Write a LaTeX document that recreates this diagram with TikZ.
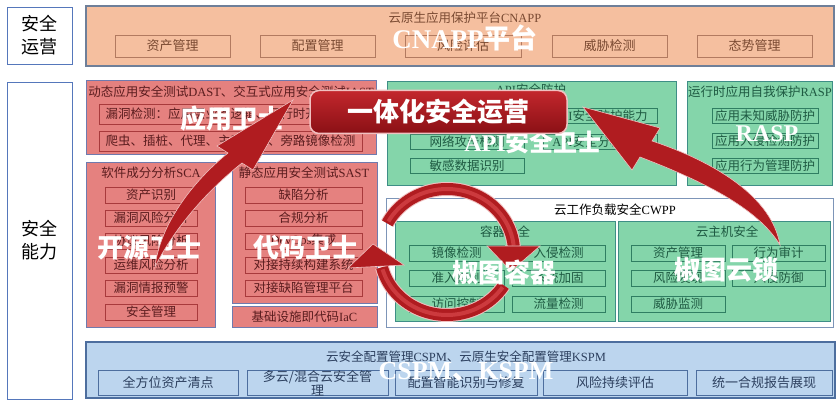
\documentclass[tikz,border=0pt]{standalone}
\usepackage{fontspec}
\setmainfont{Noto Sans CJK SC}
\newfontfamily\lat{Liberation Serif}
\newcommand\fs{\fontsize{12.5}{14}\selectfont}
\newcommand\fsb{\fontsize{13}{14}\selectfont}
\newcommand\ovf{\bfseries\fontsize{26}{27}\selectfont}
\definecolor{cnf}{HTML}{F5BF9F}
\definecolor{cnb}{HTML}{6E7F99}
\definecolor{cni}{HTML}{B27A60}
\definecolor{cnt}{HTML}{7A4A32}
\definecolor{rf}{HTML}{E5817F}
\definecolor{rb}{HTML}{6F7AAE}
\definecolor{ri}{HTML}{A83A3C}
\definecolor{rt}{HTML}{5A1C1E}
\definecolor{gf}{HTML}{84D5AA}
\definecolor{gb}{HTML}{3E8E86}
\definecolor{gi}{HTML}{2F7E62}
\definecolor{gt}{HTML}{1E5A42}
\definecolor{bf}{HTML}{BCD5EE}
\definecolor{bb}{HTML}{4D6E9E}
\definecolor{bt}{HTML}{2C3F5E}
\definecolor{lb}{HTML}{5577BB}
\definecolor{cw}{HTML}{7D95B8}
\definecolor{arr}{HTML}{B01C20}
\definecolor{arrd}{HTML}{8C1216}
\definecolor{arrh}{HTML}{CC3A3E}
\definecolor{arrl}{HTML}{F0C0C0}
\definecolor{bantop}{HTML}{C3272D}
\definecolor{banbot}{HTML}{8A1015}
\begin{document}
\begin{tikzpicture}[x=1pt,y=-1pt,
 box/.style={draw, anchor=north west, inner sep=0pt, outer sep=0pt, align=center},
 lbl/.style={box, draw=lb, fill=white, line width=0.9pt, font=\fontsize{18}{23}\selectfont},
 cnbox/.style={box, draw=cnb, fill=cnf, line width=1.4pt},
 cnitem/.style={box, draw=cni, fill=cnf, line width=0.8pt, text=cnt, font=\fsb, minimum height=22},
 rbox/.style={box, draw=rb, fill=rf, line width=0.9pt},
 ritem/.style={box, draw=ri, fill=rf, line width=0.8pt, text=rt, font=\fs},
 gbox/.style={box, draw=gb, fill=gf, line width=0.9pt},
 gitem/.style={box, draw=gi, fill=gf, line width=0.8pt, text=gt, font=\fs},
 bbox/.style={box, draw=bb, fill=bf, line width=1.4pt},
 bitem/.style={box, draw=bb, fill=bf, line width=0.8pt, text=bt, font=\fsb, minimum height=25},
 wbox/.style={box, draw=cw, fill=white, line width=0.9pt},
 ttl/.style={inner sep=0pt, font=\fs},
 ov/.style={inner sep=0pt, text=white, font=\ovf},
 banner/.style={rounded corners=9, minimum width=257, minimum height=43, inner sep=0pt, draw=arrl, line width=1.5pt, top color=bantop, bottom color=banbot, text=white, font=\bfseries\fontsize{26}{26}\selectfont},
 arrfill/.style={fill=arr, draw=arrl, line width=0.6pt},
]
\fill[white] (0,0) rectangle (836,409);
\useasboundingbox (0,0) rectangle (836,409);

% left labels
\node[lbl, minimum width=65, minimum height=57] (ops) at (7,7) {安全\\运营};
\node[lbl, minimum width=65, minimum height=317] (cap) at (7,82) {安全\\能力};

% CNAPP
\node[cnbox, minimum width=748, minimum height=60] (cnapp) at (86,6) {};
\node[ttl, text=cnt] (cnappT) at (465,18) {云原生应用保护平台{\lat CNAPP}};
\node[cnitem, minimum width=115] (cn1) at (115,35) {资产管理};
\node[cnitem, minimum width=115] (cn2) at (260,35) {配置管理};
\node[cnitem, minimum width=116] (cn3) at (405,35) {风险评估};
\node[cnitem, minimum width=115] (cn4) at (552,35) {威胁检测};
\node[cnitem, minimum width=115] (cn5) at (697,35) {态势管理};

% DAST / IAST
\node[rbox, minimum width=290, minimum height=74] (dast) at (86,80) {};
\node[ttl, text=rt] (dastT) at (231,92) {动态应用安全测试{\lat DAST}、交互式应用安全测试{\lat IAST}};
\node[ritem, minimum width=263, minimum height=20] (d1) at (99,104) {漏洞检测：应用层业务逻辑、运行时开源组件};
\node[ritem, minimum width=263, minimum height=20] (d2) at (99,131) {爬虫、插桩、代理、主动扫描、旁路镜像检测};

% SCA
\node[rbox, minimum width=129, minimum height=165] (sca) at (86,162) {};
\node[ttl, text=rt] (scaT) at (151,173) {软件成分分析{\lat SCA}};
\node[ritem, minimum width=92, minimum height=16] (s1) at (105,187) {资产识别};
\node[ritem, minimum width=92, minimum height=16] (s2) at (105,210) {漏洞风险分析};
\node[ritem, minimum width=92, minimum height=16] (s3) at (105,233) {协议风险分析};
\node[ritem, minimum width=92, minimum height=16] (s4) at (105,257) {运维风险分析};
\node[ritem, minimum width=92, minimum height=16] (s5) at (105,280) {漏洞情报预警};
\node[ritem, minimum width=92, minimum height=16] (s6) at (105,304) {安全管理};

% SAST
\node[rbox, minimum width=145, minimum height=141] (sast) at (232,162) {};
\node[ttl, text=rt] (sastT) at (304,173) {静态应用安全测试{\lat SAST}};
\node[ritem, minimum width=117, minimum height=16] (t1) at (245,187) {缺陷分析};
\node[ritem, minimum width=117, minimum height=16] (t2) at (245,210) {合规分析};
\node[ritem, minimum width=117, minimum height=16] (t3) at (245,233) {{\lat DevOps}集成};
\node[ritem, minimum width=117, minimum height=16] (t4) at (245,257) {对接持续构建系统};
\node[ritem, minimum width=117, minimum height=16] (t5) at (245,280) {对接缺陷管理平台};
\node[rbox, minimum width=145, minimum height=21, text=rt, font=\fs] (iac) at (232,306) {基础设施即代码{\lat IaC}};

% API
\node[gbox, minimum width=289, minimum height=104] (api) at (387,81) {};
\node[ttl, text=gt] (apiT) at (531,90) {{\lat API}安全防护};
\node[gitem, minimum width=114, minimum height=15] (a1) at (410,108) {};
\node[gitem, minimum width=114, minimum height=15] (a2) at (410,134) {网络攻击检测};
\node[gitem, minimum width=114, minimum height=15] (a3) at (410,158) {敏感数据识别};
\node[gitem, minimum width=114, minimum height=15] (a4) at (543,108) {{\lat API}安全防护能力};
\node[gitem, minimum width=114, minimum height=15] (a5) at (543,134) {{\lat API}安全分析能力};

% RASP
\node[gbox, minimum width=145, minimum height=104] (rasp) at (687,81) {};
\node[ttl, text=gt] (raspT) at (760,92) {运行时应用自我保护{\lat RASP}};
\node[gitem, minimum width=106, minimum height=15] (r1) at (712,108) {应用未知威胁防护};
\node[gitem, minimum width=106, minimum height=15] (r2) at (712,133) {应用入侵检测防护};
\node[gitem, minimum width=106, minimum height=15] (r3) at (712,158) {应用行为管理防护};

% CWPP
\node[wbox, minimum width=447, minimum height=129] (cwpp) at (386,198) {};
\node[ttl, text=black] (cwppT) at (615,210) {云工作负载安全{\lat CWPP}};
\node[gbox, minimum width=220, minimum height=100] (ctn) at (395,221) {};
\node[ttl, text=gt] (ctnT) at (505,232) {容器安全};
\node[gitem, minimum width=95, minimum height=16] (k1) at (409,245) {镜像检测};
\node[gitem, minimum width=95, minimum height=16] (k2) at (409,270) {准入控制};
\node[gitem, minimum width=95, minimum height=16] (k3) at (409,296) {访问控制};
\node[gitem, minimum width=93, minimum height=16] (k4) at (512,245) {入侵检测};
\node[gitem, minimum width=93, minimum height=16] (k5) at (512,270) {系统加固};
\node[gitem, minimum width=93, minimum height=16] (k6) at (512,296) {流量检测};
\node[gbox, minimum width=212, minimum height=100] (host) at (618,221) {};
\node[ttl, text=gt] (hostT) at (727,232) {云主机安全};
\node[gitem, minimum width=94, minimum height=16] (h1) at (631,245) {资产管理};
\node[gitem, minimum width=94, minimum height=16] (h2) at (631,270) {风险发现};
\node[gitem, minimum width=94, minimum height=16] (h3) at (631,296) {威胁监测};
\node[gitem, minimum width=93, minimum height=16] (h4) at (732,245) {行为审计};
\node[gitem, minimum width=93, minimum height=16] (h5) at (732,270) {入侵防御};

% CSPM
\node[bbox, minimum width=749, minimum height=56] (cspm) at (86,342) {};
\node[ttl, text=bt] (cspmT) at (466,357) {云安全配置管理{\lat CSPM}、云原生安全配置管理{\lat KSPM}};
\node[bitem, minimum width=140] (b1) at (98,370) {全方位资产清点};
\node[bitem, minimum width=141, font=\fontsize{13}{14}\selectfont] (b2) at (247,370) {多云/混合云安全管\\理};
\node[bitem, minimum width=142] (b3) at (395,370) {配置智能识别与修复};
\node[bitem, minimum width=144] (b4) at (543,370) {风险持续评估};
\node[bitem, minimum width=136] (b5) at (696,370) {统一合规报告展现};

% overlay titles (under arrows)
\node[ov, font=\bfseries\fontsize{27}{28}\selectfont] (o1) at (465,38) {{\lat CNAPP}平台};
\node[ov] (o2) at (232,119) {应用卫士};
\node[ov, font=\bfseries\fontsize{24}{26}\selectfont] (o3) at (533,142) {{\lat API}安全卫士};
\node[ov, font=\bfseries\fontsize{24}{26}\selectfont] (o4) at (767,134) {\lat RASP};
\node[ov] (o5) at (149,248) {开源卫士};
\node[ov] (o6) at (305,248) {代码卫士};
\node[ov] (o8) at (726,270) {椒图云锁};
\node[ov, font=\bfseries\fontsize{26}{28}\selectfont] (o9) at (466,372) {{\lat CSPM}、{\lat KSPM}};

% left arrow
\path[arrfill] (155,267) .. controls (160,225) and (192,182) .. (228,153) -- (217,146) -- (293,100) -- (253,170) -- (242,163) .. controls (205,192) and (172,232) .. (155,267) -- cycle;
% right arrow
\path[arrfill] (583,107) -- (660,128) -- (652,141) .. controls (715,162) and (772,197) .. (780,245) .. controls (757,207) and (700,180) .. (640,157) -- (632,170) -- cycle;

% circular arrows
\draw[arrl, line width=14pt] plot[domain=207:356, samples=60] ({447+67*cos(\x)},{252+63*sin(\x)});
\draw[arr, line width=12pt] plot[domain=207:356, samples=60] ({447+67*cos(\x)},{252+63*sin(\x)});
\draw[arrh, line width=4pt] plot[domain=209:354, samples=60] ({447+67*cos(\x)},{252+63*sin(\x)});
\path[arrfill] (487,246) -- (540,246) -- (511,271) -- cycle;
\draw[arrl, line width=14pt] plot[domain=32:166, samples=60] ({447+67*cos(\x)},{252+63*sin(\x)});
\draw[arr, line width=12pt] plot[domain=32:166, samples=60] ({447+67*cos(\x)},{252+63*sin(\x)});
\draw[arrh, line width=4pt] plot[domain=34:164, samples=60] ({447+67*cos(\x)},{252+63*sin(\x)});
\path[arrfill] (348,268) -- (404,265) -- (373,244) -- cycle;

% banner
\node[banner] (ban) at (438.5,112) {一体化安全运营};

% overlay on top
\node[ov] (o7) at (504,272) {椒图容器};
\end{tikzpicture}
\end{document}
